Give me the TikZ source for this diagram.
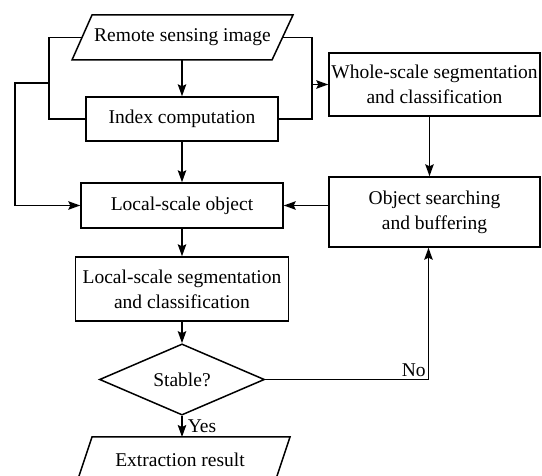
\documentclass[tikz,border=0pt]{standalone}
\usepackage{fontspec}
\setmainfont{Liberation Serif}
\usetikzlibrary{shapes.geometric,arrows.meta,calc}
\begin{document}
\begin{tikzpicture}[x=1pt,y=-1pt,line width=1.5pt,
  font=\fontsize{19.5}{25}\selectfont,
  box/.style={draw,rectangle,align=center,inner sep=0pt},
  arr/.style={-{Stealth[length=12pt,width=8.5pt,inset=2pt]}},
  lbl/.style={inner sep=2pt}]
\useasboundingbox (0,0) rectangle (542,476);
\clip (0,0) rectangle (542,476);
% parallelogram: remote sensing image
\draw (92,15) -- (293,15) -- (272,60) -- (72,60) -- cycle;
\node (rsi) at (182.5,37.5) {Remote sensing image};
\coordinate (rsiL) at (82,37.5);
\coordinate (rsiR) at (282.5,37.5);
\coordinate (rsiB) at (182,60);
% boxes
\node[box,minimum width=192pt,minimum height=44pt] (idx) at (182,119) {Index computation};
\node[box,minimum width=202pt,minimum height=45pt] (loc) at (182,205.5) {Local-scale object};
\node[box,minimum width=213pt,minimum height=64pt] (lss) at (182,289) {Local-scale segmentation\\and classification};
\node[box,minimum width=211pt,minimum height=63pt] (whole) at (434.5,84.5) {Whole-scale segmentation\\and classification};
\node[box,minimum width=211pt,minimum height=70pt] (obj) at (434.5,212) {Object searching\\and buffering};
\node[draw,diamond,inner sep=0pt,minimum width=165pt,minimum height=55pt] (dia) at (182,379.5) {Stable?};
% parallelogram: extraction result
\draw (92,437) -- (290,437) -- (275,482) -- (77,482) -- cycle;
\node (ext) at (180,460) {Extraction result};
\coordinate (extT) at (182,437);
% junctions
\coordinate (lj) at (49,83);
\coordinate (rj) at (312,84.5);
% connectors
\draw[arr] (rsiB) -- (idx.north);
\draw (rsiL) -- (49,37.5) |- (idx.west);
\draw[arr] (lj) -- (15,83) |- (loc.west);
\draw (rsiR) -- (312,37.5) |- (idx.east);
\draw[arr] (rj) -- (whole.west);
\draw[arr] (idx.south) -- (loc.north);
\draw[arr] (loc.south) -- (lss.north);
\draw[arr] (lss.south) -- (dia.north);
\draw[arr] (dia.south) -- (extT) node[lbl,pos=0.5,right=3pt] {Yes};
\draw[arr] ([xshift=-5pt]whole.south) -- ([xshift=-5pt]obj.north);
\draw[arr] (obj.west |- loc.east) -- (loc.east);
\draw[arr] (dia.east) -| ([xshift=-6pt]obj.south) node[lbl,pos=0.5,above left] {No};
\end{tikzpicture}
\end{document}
